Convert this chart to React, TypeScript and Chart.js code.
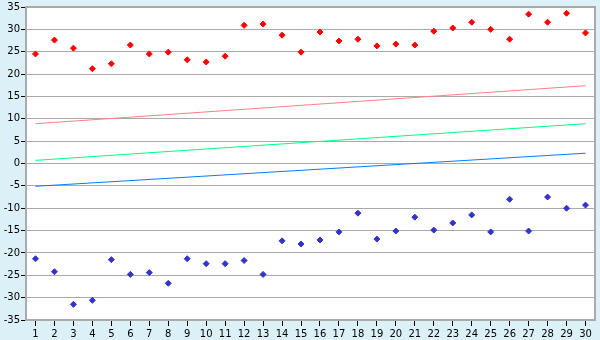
import React, { useEffect, useRef } from "react";
import { Chart, registerables } from "chart.js";

Chart.register(...registerables);

const categories = Array.from({ length: 30 }, (_, i) => String(i + 1));

const redPoints = [
  24.5, 27.6, 25.8, 21.2, 22.3, 26.5, 24.5, 24.9, 23.2, 22.7,
  24.0, 30.9, 31.2, 28.7, 24.9, 29.4, 27.4, 27.8, 26.3, 26.7,
  26.5, 29.6, 30.3, 31.6, 30.0, 27.8, 33.4, 31.6, 33.6, 29.2,
];

const bluePoints = [
  -21.3, -24.2, -31.5, -30.6, -21.5, -24.8, -24.4, -26.8, -21.3, -22.4,
  -22.4, -21.7, -24.8, -17.3, -18.0, -17.1, -15.3, -11.1, -16.9, -15.1,
  -12.0, -14.9, -13.3, -11.5, -15.3, -8.0, -15.1, -7.5, -10.0, -9.3,
];

// straight trend lines: value at category 1 and at category 30
const redTrendEnds = [8.9, 17.4];
const greenTrendEnds = [0.7, 8.9];
const blueTrendEnds = [-5.1, 2.3];

const yTicks = [35, 30, 25, 20, 15, 10, 5, 0, -5, -10, -15, -20, -25, -30, -35];

const endsToSeries = (ends: number[]) =>
  categories.map((_, i) => (i === 0 ? ends[0] : i === categories.length - 1 ? ends[1] : null));

const bgPlugin = {
  id: "bgPlugin",
  beforeDraw(chart: any) {
    const { ctx, chartArea } = chart;
    ctx.save();
    ctx.fillStyle = "#DBF0F7";
    ctx.fillRect(0, 0, chart.width, chart.height);
    ctx.fillStyle = "#FFFFFF";
    ctx.fillRect(chartArea.left, chartArea.top, chartArea.right - chartArea.left, chartArea.bottom - chartArea.top);
    ctx.restore();
  },
  afterDatasetsDraw(chart: any) {
    const { ctx, chartArea } = chart;
    ctx.save();
    ctx.strokeStyle = "#AAAAAA";
    ctx.lineWidth = 2;
    ctx.beginPath();
    ctx.moveTo(chartArea.left, chartArea.top);
    ctx.lineTo(chartArea.right, chartArea.top);
    ctx.lineTo(chartArea.right, chartArea.bottom);
    ctx.stroke();
    ctx.restore();
  },
};

export default function App() {
  const ref = useRef<HTMLCanvasElement>(null);
  useEffect(() => {
    document.body.style.margin = "0";
    const canvas = ref.current!;
    const font = { family: "'DejaVu Sans', Verdana, sans-serif", size: 10 };
    const chart = new Chart(canvas, {
      type: "line",
      data: {
        labels: categories,
        datasets: [
          {
            data: endsToSeries(redTrendEnds),
            borderColor: "#FF8080",
            borderWidth: 1,
            pointRadius: 0,
            spanGaps: true,
          },
          {
            data: endsToSeries(greenTrendEnds),
            borderColor: "#00FF80",
            borderWidth: 1,
            pointRadius: 0,
            spanGaps: true,
          },
          {
            data: endsToSeries(blueTrendEnds),
            borderColor: "#0080FF",
            borderWidth: 1,
            pointRadius: 0,
            spanGaps: true,
          },
          {
            data: redPoints,
            showLine: false,
            pointStyle: "rectRot",
            pointRadius: 3,
            pointBackgroundColor: "#FF0000",
            pointBorderColor: "#FF0000",
            pointBorderWidth: 1,
          },
          {
            data: bluePoints,
            showLine: false,
            pointStyle: "rectRot",
            pointRadius: 3,
            pointBackgroundColor: "#3333CC",
            pointBorderColor: "#3333CC",
            pointBorderWidth: 1,
          },
        ],
      },
      options: {
        responsive: false,
        animation: false,
        layout: { padding: { left: 0, right: 5, top: 5, bottom: 0 } },
        plugins: { legend: { display: false }, tooltip: { enabled: false } },
        scales: {
          x: {
            offset: true,
            grid: {
              offset: false,
              drawOnChartArea: false,
              drawTicks: true,
              tickLength: 6,
              tickColor: "#000000",
            },
            border: { color: "#AAAAAA", width: 2 },
            ticks: { color: "#000000", font, padding: 2, maxRotation: 0, autoSkip: false },
            afterFit(s: any) {
              s.height = 20;
            },
          },
          y: {
            min: -35,
            max: 35,
            afterBuildTicks(s: any) {
              s.ticks = yTicks.map((v) => ({ value: v }));
            },
            grid: {
              color: "#AAAAAA",
              lineWidth: 1,
              tickLength: 5,
              tickColor: "#000000",
            },
            border: { color: "#AAAAAA", width: 2 },
            ticks: { color: "#000000", font, padding: 1 },
            afterFit(s: any) {
              s.width = 26;
            },
          },
        },
      },
      plugins: [bgPlugin],
    });
    return () => chart.destroy();
  }, []);
  return <canvas ref={ref} width={600} height={340} style={{ display: "block" }} />;
}
